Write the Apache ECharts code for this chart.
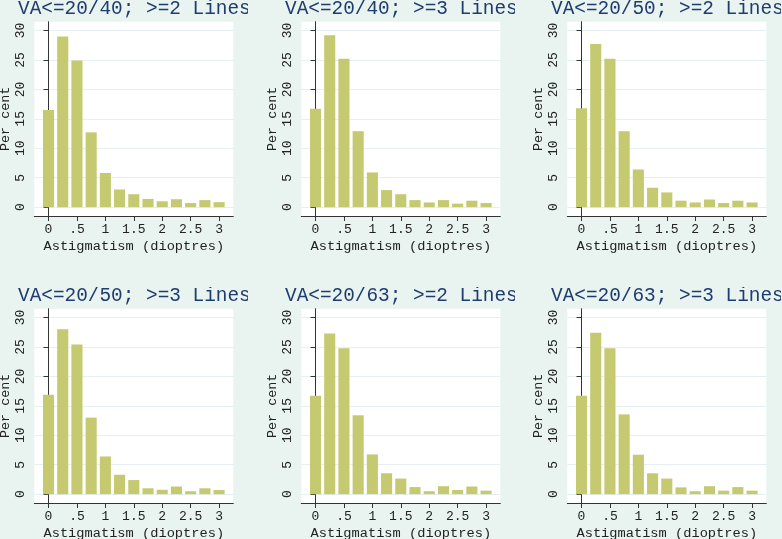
<!DOCTYPE html>
<html><head><meta charset="utf-8">
<script src="https://cdn.jsdelivr.net/npm/echarts@6/dist/echarts.min.js"></script>
<style>
html,body{margin:0;padding:0;width:782px;height:539px;overflow:hidden;background:#e9f4f0;}
.p{position:absolute;overflow:hidden;width:248px;height:287px;}
</style></head>
<body>
<script>
// Bin centres (dioptres)
const bins = [0, 0.25, 0.5, 0.75, 1, 1.25, 1.5, 1.75, 2, 2.25, 2.5, 2.75, 3];
const xTicks = [0, 0.5, 1, 1.5, 2, 2.5, 3];
const xTickLabels = ['0', '.5', '1', '1.5', '2', '2.5', '3'];
const yTicks = [0, 5, 10, 15, 20, 25, 30];
const titles = [
  'VA<=20/40; >=2 Lines', 'VA<=20/40; >=3 Lines', 'VA<=20/50; >=2 Lines',
  'VA<=20/50; >=3 Lines', 'VA<=20/63; >=2 Lines', 'VA<=20/63; >=3 Lines'
];
const va40_2 = [16.5, 29.0, 24.9, 12.7, 5.8, 3.0, 2.2, 1.4, 1.0, 1.35, 0.7, 1.2, 0.85];
const va40_3 = [16.7, 29.2, 25.2, 12.9, 5.9, 2.9, 2.2, 1.2, 0.8, 1.2, 0.6, 1.1, 0.7];
const va50_2 = [16.8, 27.7, 25.2, 12.9, 6.4, 3.3, 2.5, 1.1, 0.8, 1.3, 0.7, 1.1, 0.8];
const va50_3 = [16.9, 28.0, 25.4, 13.0, 6.4, 3.3, 2.4, 1.0, 0.75, 1.3, 0.5, 1.0, 0.7];
const va63_2 = [16.7, 27.3, 24.8, 13.4, 6.75, 3.55, 2.65, 1.2, 0.5, 1.35, 0.7, 1.3, 0.6];
const va63_3 = [16.7, 27.4, 24.8, 13.55, 6.7, 3.55, 2.65, 1.15, 0.5, 1.35, 0.6, 1.2, 0.6];
const panels = [va40_2, va40_3, va50_2, va50_3, va63_2, va63_3];
const xTitle = 'Astigmatism (dioptres)';
const yTitle = 'Per cent';

const FONT = '"Liberation Mono", "DejaVu Sans Mono", monospace';
panels.forEach((vals, k) => {
  const col = k % 3, row = Math.floor(k / 3);
  const div = document.createElement('div');
  div.className = 'p';
  div.style.left = (266.7 * col) + 'px';
  div.style.top = (286.7 * row) + 'px';
  document.body.appendChild(div);
  const chart = echarts.init(div, null, {renderer: 'canvas', width: 248, height: 287});
  chart.setOption({
    animation: false,
    backgroundColor: '#e9f4f0',
    title: {
      text: titles[k], left: 18, top: -1, padding: 0,
      textStyle: {fontFamily: FONT, fontSize: 19.4, fontWeight: 'normal', color: '#1f3c6e'}
    },
    grid: {left: 34.3, top: 21.7, width: 199, height: 194.3, show: true,
      outerBoundsMode: 'none', containLabel: false,
      backgroundColor: '#ffffff', borderWidth: 0},
    xAxis: {
      type: 'value', min: -0.25, max: 3.25,
      name: xTitle, nameLocation: 'middle', nameGap: 23, nameMoveOverlap: false,
      nameTextStyle: {fontFamily: FONT, fontSize: 13.7, color: '#222'},
      axisLine: {show: true, onZero: false, lineStyle: {color: '#333', width: 1}},
      axisTick: {show: true, length: 5, customValues: xTicks, lineStyle: {color: '#333'}},
      axisLabel: {customValues: xTicks, margin: 7, fontFamily: FONT, fontSize: 13, color: '#222',
        formatter: v => xTickLabels[xTicks.indexOf(v)] ?? ''},
      splitLine: {show: false}
    },
    yAxis: {
      type: 'value', min: -1.5, max: 31.5,
      name: yTitle, nameLocation: 'middle', nameGap: 22, nameRotate: 90, nameMoveOverlap: false,
      nameTextStyle: {fontFamily: FONT, fontSize: 13.4, color: '#222'},
      axisLine: {show: true, lineStyle: {color: '#333', width: 1}},
      axisTick: {show: true, length: 5, customValues: yTicks, lineStyle: {color: '#333'}},
      axisLabel: {customValues: yTicks, rotate: 90, margin: 7, fontFamily: FONT, fontSize: 13, color: '#222'},
      splitLine: {show: true, lineStyle: {color: '#e6eff2', width: 1}}
    },
    series: [{
      type: 'bar',
      data: bins.map((b, i) => [b, vals[i]]),
      barWidth: '78%',
      itemStyle: {color: '#c5c96f'},
      silent: true
    }]
  });
});
</script>
</body></html>
